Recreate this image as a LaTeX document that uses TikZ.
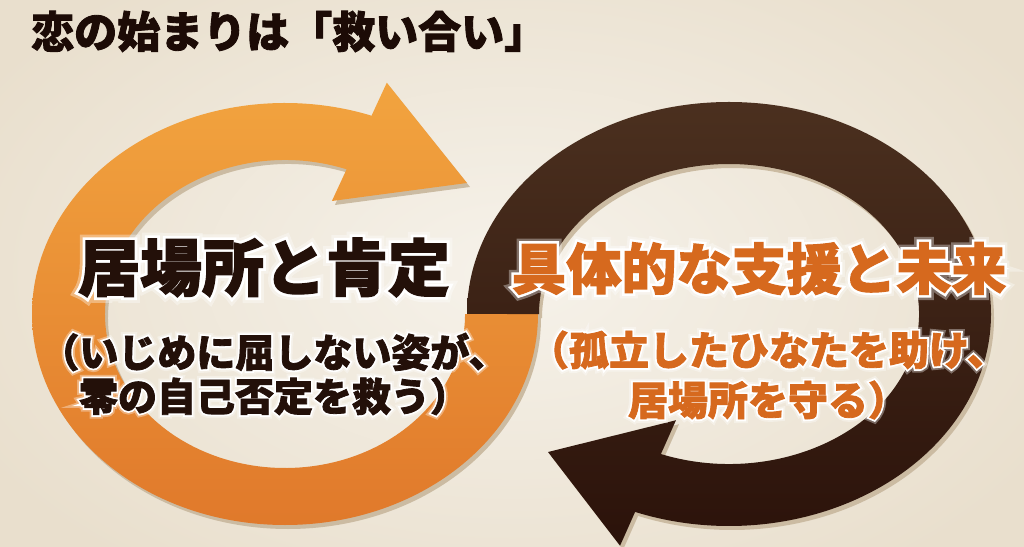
\documentclass[tikz,border=0pt]{standalone}
\usepackage{fontspec}
\newfontfamily\jp{Noto Sans CJK JP}[BoldFeatures={FakeBold=2}]
\newfontfamily\jphalo{Noto Sans CJK JP}[BoldFeatures={FakeBold=11}]
\newfontfamily\jpglow{Noto Sans CJK JP}[BoldFeatures={FakeBold=20}]
\usetikzlibrary{calc}
\definecolor{bgin}{HTML}{F6F2EA}
\definecolor{bgout}{HTML}{E9DFCD}
\definecolor{ortop}{HTML}{F2A43F}
\definecolor{orbot}{HTML}{E0792B}
\definecolor{dktop}{HTML}{4B301F}
\definecolor{dkbot}{HTML}{2B120A}
\definecolor{shadowc}{HTML}{CBBBA2}
\definecolor{inkdark}{HTML}{231009}
\definecolor{inkorange}{HTML}{D6691E}
\definecolor{titleink}{HTML}{1C0B06}
\newcommand{\orangepath}{(538,232) arc[start angle=0, end angle=-290, x radius=253, y radius=211] -- (386.8,463.3) -- (467,363) -- (331.9,345) -- (346.6,376.7) arc[start angle=70, end angle=360, x radius=180, y radius=154] -- cycle}
\newcommand{\darkpath}{(467,232) arc[start angle=180, end angle=-111, x radius=262, y radius=212] -- (620.05,0.28) -- (548,94) -- (675.97,125.76) -- (660.91,91.96) arc[start angle=-111, end angle=180, x radius=190, y radius=150] -- cycle}
% #1 name, #2 position, #3 style, #4 font size/skip, #5 text
\newcommand{\halolabel}[5]{%
  \node[lbl, font=\jpglow\bfseries#4, text=white, text opacity=0.35, name=#1g] at (#2) {#5};
  \node[lbl, font=\jphalo\bfseries#4, text=white, name=#1h] at (#2) {#5};
  \node[#3, font=\jp\bfseries#4, name=#1] at (#2) {#5};
}
\tikzset{
  lbl/.style={inner sep=0pt, align=center},
  leftlabel/.style={lbl, text=inkdark},
  rightlabel/.style={lbl, text=inkorange},
  titlestyle/.style={inner sep=0pt, anchor=west, font=\jp\bfseries\fontsize{43}{43}\selectfont, text=titleink},
  ringshadow/.style={fill=shadowc, xshift=3pt, yshift=-4pt},
  orangering/.style={top color=ortop, bottom color=orbot},
  darkring/.style={top color=dktop, bottom color=dkbot}
}
\begin{document}
\begin{tikzpicture}[x=1pt,y=1pt]
\useasboundingbox (0,0) rectangle (1024,546);
\clip (0,0) rectangle (1024,546);
\shade[inner color=bgin, outer color=bgout] (-100,-100) rectangle (1124,646);
% shadows
\fill[ringshadow] \orangepath;
\fill[ringshadow] \darkpath;
% rings
\shade[orangering] \orangepath;
\shade[darkring] \darkpath;
% title
\node[titlestyle] (title) at (31,514.5) {恋の始まりは「救い合い」};
% labels
\coordinate (lm) at (264,278.5);
\coordinate (ls) at (274,172);
\coordinate (rm) at (759,277.5);
\coordinate (rs) at (768,171);
\halolabel{lmain}{lm}{leftlabel}{\fontsize{62}{62}\selectfont}{居場所と肯定}
\halolabel{lsub}{ls}{leftlabel}{\fontsize{39}{44}\selectfont}{（いじめに屈しない姿が、\\零の自己否定を救う）}
\halolabel{rmain}{rm}{rightlabel}{\fontsize{55}{55}\selectfont}{具体的な支援と未来}
\halolabel{rsub}{rs}{rightlabel}{\fontsize{40}{50}\selectfont}{（孤立したひなたを助け、\\居場所を守る）}
\end{tikzpicture}
\end{document}
